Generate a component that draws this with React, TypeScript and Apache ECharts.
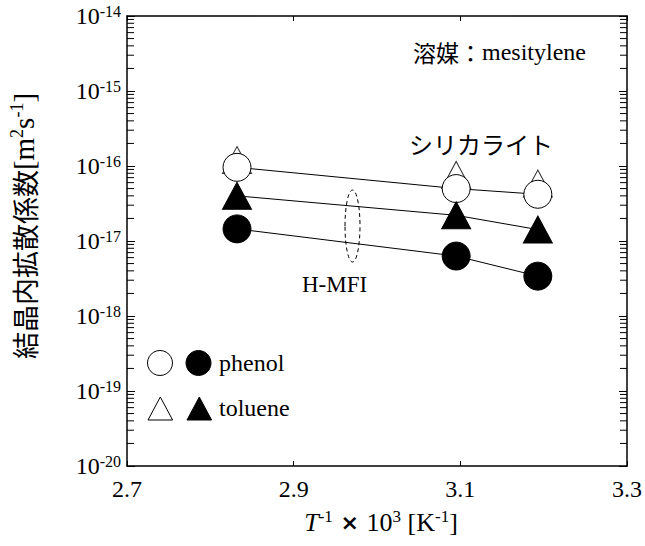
import React, { useEffect, useRef } from "react";
import * as echarts from "echarts";

// ---- data ----
const invT = [2.832, 3.095, 3.193]; // T^-1 x 10^3 [K^-1]
const silicalitePhenol = [9.6e-17, 5.0e-17, 4.2e-17];
const silicaliteToluene = [1.2e-16, 7.6e-17, 5.85e-17];
const hmfiToluene = [4.0e-17, 2.2e-17, 1.42e-17];
const hmfiPhenol = [1.45e-17, 6.3e-18, 3.4e-18];

// ---- axes ----
const X_MIN = 2.7;
const X_MAX = 3.3;
const X_STEP = 0.2;
const yExponents = [-20, -19, -18, -17, -16, -15, -14];
const minorMultipliers = [2, 3, 4, 5, 6, 7, 8, 9];

const SERIF = "'Liberation Serif', 'Times New Roman', serif";
const SANS_CJK = "'Noto Sans CJK JP', 'Noto Sans', sans-serif";

const pairs = (ys: number[]) => invT.map((x, i) => [x, ys[i]]);

const minorTickData: number[][] = [];
yExponents.slice(0, -1).forEach((e) => {
  minorMultipliers.forEach((m) => minorTickData.push([X_MIN, m * Math.pow(10, e)]));
});

const axisLineStyle = { color: "#000", width: 1.5 };

export default function App() {
  const ref = useRef<HTMLDivElement>(null);

  useEffect(() => {
    if (!ref.current) return;
    const chart = echarts.init(ref.current, undefined, { renderer: "svg" });

    const supRich = {
      b: { fontFamily: SERIF, fontSize: 24, color: "#000", lineHeight: 26 },
      s: { fontFamily: SERIF, fontSize: 16, color: "#000", verticalAlign: "top", lineHeight: 16 },
    };

    chart.setOption({
      animation: false,
      backgroundColor: "#fff",
      grid: { left: 127, top: 16, width: 500, height: 450, containLabel: false },
      xAxis: [
        {
          type: "value",
          position: "bottom",
          min: X_MIN,
          max: X_MAX,
          interval: X_STEP,
          axisLine: { show: true, lineStyle: axisLineStyle },
          axisTick: { show: true, inside: true, length: 5, lineStyle: { color: "#000", width: 1 } },
          axisLabel: {
            show: true,
            margin: 11,
            color: "#000",
            fontFamily: SERIF,
            fontSize: 24,
            formatter: (v: number) => v.toFixed(1),
          },
          splitLine: { show: false },
        },
        {
          type: "value",
          position: "top",
          min: X_MIN,
          max: X_MAX,
          interval: X_STEP,
          axisLine: { show: true, lineStyle: axisLineStyle },
          axisTick: { show: true, inside: true, length: 5, lineStyle: { color: "#000", width: 1 } },
          axisLabel: { show: false },
          splitLine: { show: false },
        },
      ],
      yAxis: [
        {
          type: "log",
          logBase: 10,
          position: "left",
          min: Math.pow(10, yExponents[0]),
          max: Math.pow(10, yExponents[yExponents.length - 1]),
          splitNumber: 6,
          axisLine: { show: true, lineStyle: axisLineStyle },
          axisTick: { show: true, inside: true, length: 8, lineStyle: { color: "#000", width: 1 } },
          axisLabel: {
            show: true,
            margin: 6,
            formatter: (v: number) => `{b|10}{s|${Math.round(Math.log10(v))}}`,
            rich: supRich,
          },
          splitLine: { show: false },
        },
        {
          type: "log",
          logBase: 10,
          position: "right",
          min: Math.pow(10, yExponents[0]),
          max: Math.pow(10, yExponents[yExponents.length - 1]),
          splitNumber: 6,
          axisLine: { show: true, lineStyle: axisLineStyle },
          axisTick: { show: true, inside: true, length: 8, lineStyle: { color: "#000", width: 1 } },
          axisLabel: { show: false },
          splitLine: { show: false },
        },
      ],
      series: [
        {
          type: "custom",
          name: "minorTicks",
          silent: true,
          xAxisIndex: 0,
          yAxisIndex: 0,
          data: minorTickData,
          renderItem: (_p: any, api: any) => {
            const v = api.value(1);
            const l = api.coord([X_MIN, v]);
            const r = api.coord([X_MAX, v]);
            return {
              type: "group",
              children: [
                { type: "line", shape: { x1: l[0], y1: l[1], x2: l[0] + 7, y2: l[1] }, style: { stroke: "#000", lineWidth: 1 } },
                { type: "line", shape: { x1: r[0], y1: r[1], x2: r[0] - 7, y2: r[1] }, style: { stroke: "#000", lineWidth: 1 } },
              ],
            };
          },
        },
        {
          type: "scatter",
          name: "silicalite toluene",
          xAxisIndex: 0,
          yAxisIndex: 0,
          data: pairs(silicaliteToluene),
          symbol: "triangle",
          symbolSize: [29, 27],
          itemStyle: { color: "#fff", borderColor: "#000", borderWidth: 1 },
        },
        {
          type: "line",
          name: "silicalite phenol",
          xAxisIndex: 0,
          yAxisIndex: 0,
          data: pairs(silicalitePhenol),
          symbol: "circle",
          symbolSize: 28,
          lineStyle: { color: "#000", width: 1 },
          itemStyle: { color: "#fff", borderColor: "#000", borderWidth: 1 },
        },
        {
          type: "line",
          name: "H-MFI toluene",
          xAxisIndex: 0,
          yAxisIndex: 0,
          data: pairs(hmfiToluene),
          symbol: "triangle",
          symbolSize: [29, 27],
          lineStyle: { color: "#000", width: 1 },
          itemStyle: { color: "#000", borderColor: "#000", borderWidth: 1 },
        },
        {
          type: "line",
          name: "H-MFI phenol",
          xAxisIndex: 0,
          yAxisIndex: 0,
          data: pairs(hmfiPhenol),
          symbol: "circle",
          symbolSize: 28,
          lineStyle: { color: "#000", width: 1 },
          itemStyle: { color: "#000", borderColor: "#000", borderWidth: 1 },
        },
      ],
      graphic: [
        // y-axis name
        {
          type: "text",
          x: 24,
          y: 226,
          rotation: Math.PI / 2,
          style: {
            text: "{c|結晶内拡散係数}{r|[m}{s|2}{r|s}{s|-1}{r|]}",
            align: "center",
            verticalAlign: "middle",
            rich: {
              c: { fontFamily: SANS_CJK, fontSize: 27, fill: "#000", lineHeight: 32 },
              r: { fontFamily: SERIF, fontSize: 29, fill: "#000", lineHeight: 32 },
              s: { fontFamily: SERIF, fontSize: 18, fill: "#000", verticalAlign: "top", lineHeight: 18 },
            },
          },
        },
        // x-axis name
        {
          type: "text",
          x: 381,
          y: 522,
          style: {
            text: "{i|T}{s|-1}{x| × }{r|10}{s|3}{r| [K}{s|-1}{r|]}",
            align: "center",
            verticalAlign: "middle",
            rich: {
              i: { fontFamily: SERIF, fontStyle: "italic", fontSize: 26, fill: "#000", lineHeight: 28 },
              r: { fontFamily: SERIF, fontSize: 26, fill: "#000", lineHeight: 28 },
              x: { fontFamily: "'DejaVu Sans', sans-serif", fontWeight: "bold", fontSize: 22, fill: "#000", lineHeight: 28 },
              s: { fontFamily: SERIF, fontSize: 17, fill: "#000", verticalAlign: "top", lineHeight: 17 },
            },
          },
        },
        // solvent note
        {
          type: "text",
          x: 586,
          y: 52,
          style: {
            text: "{c|溶媒：}{r|mesitylene}",
            align: "right",
            verticalAlign: "middle",
            rich: {
              c: { fontFamily: SANS_CJK, fontSize: 23, fill: "#000" },
              r: { fontFamily: SERIF, fontSize: 24, fill: "#000" },
            },
          },
        },
        {
          type: "text",
          x: 409,
          y: 143,
          style: { text: "シリカライト", fontFamily: SANS_CJK, fontSize: 24, fill: "#000", align: "left", verticalAlign: "middle" },
        },
        {
          type: "text",
          x: 302,
          y: 284,
          style: { text: "H-MFI", fontFamily: SERIF, fontSize: 23, fill: "#000", align: "left", verticalAlign: "middle" },
        },
        {
          type: "ellipse",
          shape: { cx: 352.5, cy: 226, rx: 7.5, ry: 36 },
          style: { fill: "none", stroke: "#000", lineWidth: 1, lineDash: [4, 3] },
        },
        // legend
        { type: "circle", shape: { cx: 160, cy: 363, r: 12.5 }, style: { fill: "#fff", stroke: "#000", lineWidth: 1 } },
        { type: "circle", shape: { cx: 198.5, cy: 363, r: 12.5 }, style: { fill: "#000", stroke: "#000", lineWidth: 1 } },
        {
          type: "text",
          x: 219,
          y: 363,
          style: { text: "phenol", fontFamily: SERIF, fontSize: 24, fill: "#000", align: "left", verticalAlign: "middle" },
        },
        {
          type: "polygon",
          shape: { points: [[160.3, 397], [148, 420], [172.6, 420]] },
          style: { fill: "#fff", stroke: "#000", lineWidth: 1 },
        },
        {
          type: "polygon",
          shape: { points: [[199.3, 397], [187, 420], [211.6, 420]] },
          style: { fill: "#000", stroke: "#000", lineWidth: 1 },
        },
        {
          type: "text",
          x: 219,
          y: 408,
          style: { text: "toluene", fontFamily: SERIF, fontSize: 24, fill: "#000", align: "left", verticalAlign: "middle" },
        },
      ],
    });

    return () => chart.dispose();
  }, []);

  return <div ref={ref} style={{ width: 645, height: 546, position: "absolute", left: 0, top: 0 }} />;
}
